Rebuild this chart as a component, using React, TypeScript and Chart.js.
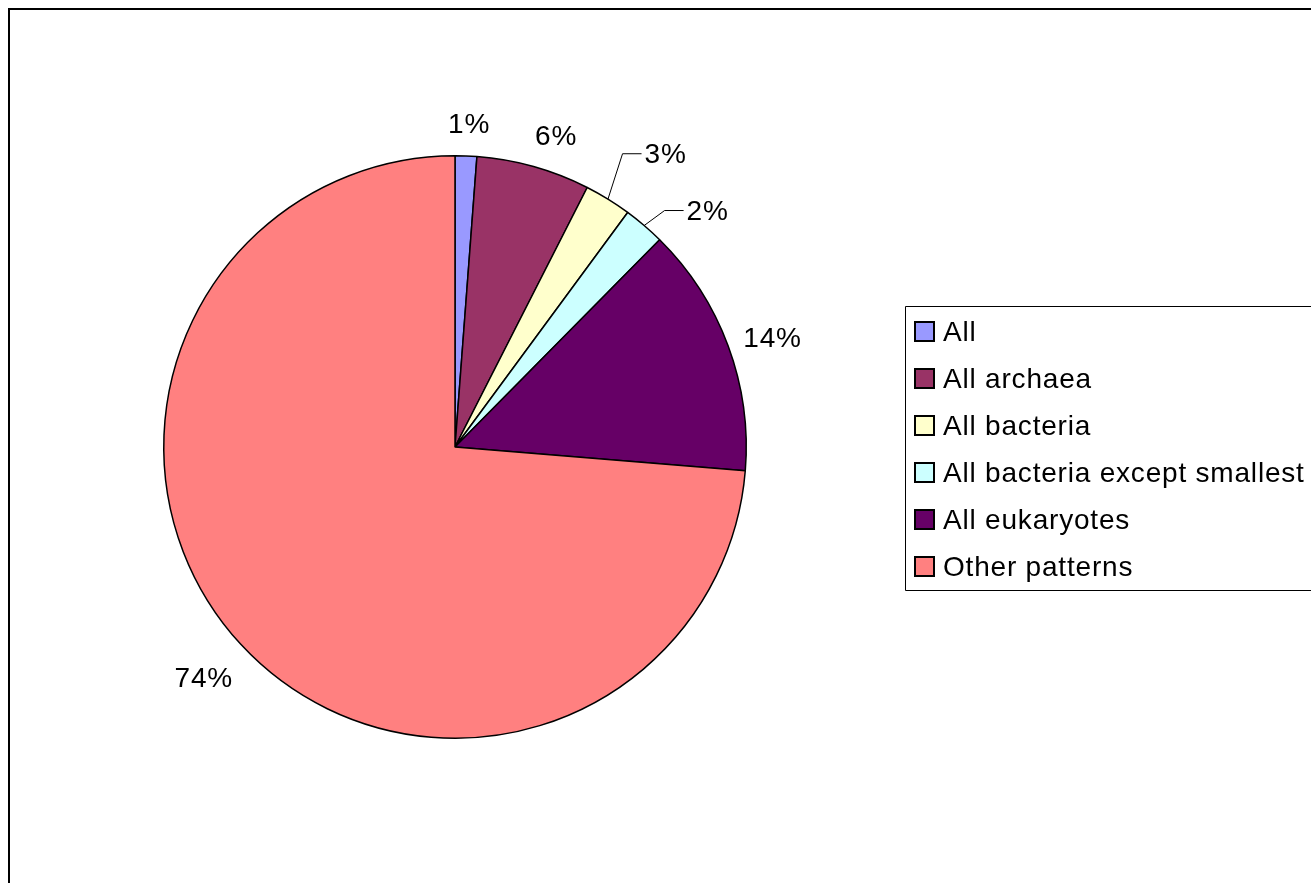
import React, { useEffect, useRef } from "react";
import { Chart, registerables } from "chart.js";

Chart.register(...registerables);

const categories = [
  "All",
  "All archaea",
  "All bacteria",
  "All bacteria except smallest",
  "All eukaryotes",
  "Other patterns",
];
const shares = [1.2, 6.3, 2.6, 2.3, 13.9, 73.7];
const sliceColors = ["#9999FF", "#993366", "#FFFFCC", "#CCFFFF", "#660066", "#FF8080"];

// label nudges (px) and which labels have leader lines
const labelNudgeX = [2, 13, 37, 37, -2, -2];
const labelNudgeY = [-1, 4, -11, 17, 10, 2];
const hasLeader = [false, false, true, true, false, false];

const FONT = "28px 'Liberation Sans', Arial, sans-serif";

const labelPlugin = {
  id: "pieLabels",
  afterDraw(chart: any) {
    const ctx = chart.ctx as CanvasRenderingContext2D;
    const meta = chart.getDatasetMeta(0);
    const data = chart.data.datasets[0].data as number[];
    const total = data.reduce((a, b) => a + b, 0);
    ctx.save();
    ctx.font = FONT;
    (ctx as any).letterSpacing = "0.8px";
    ctx.fillStyle = "#000";
    ctx.strokeStyle = "#000";
    ctx.lineWidth = 1;
    ctx.textBaseline = "middle";
    ctx.textAlign = "center";
    meta.data.forEach((arc: any, i: number) => {
      const p = arc.getProps(["x", "y", "startAngle", "endAngle", "outerRadius"], true);
      const mid = (p.startAngle + p.endAngle) / 2;
      const c = Math.cos(mid);
      const s = Math.sin(mid);
      const text = Math.round((data[i] / total) * 100) + "%";
      const w = ctx.measureText(text).width;
      const h = 24;
      const dist = p.outerRadius + 18 + Math.abs(c) * w / 2 + Math.abs(s) * h / 2;
      const cx = p.x + c * dist + labelNudgeX[i];
      const cy = p.y + s * dist + labelNudgeY[i];
      if (hasLeader[i]) {
        const left = cx - w / 2;
        ctx.beginPath();
        ctx.moveTo(p.x + c * p.outerRadius, p.y + s * p.outerRadius);
        ctx.lineTo(left - 22, cy - 1);
        ctx.lineTo(left - 3, cy - 1);
        ctx.stroke();
      }
      ctx.fillText(text, cx, cy + 1);
    });

    // legend
    const boxLeft = 895.5;
    const boxTop = 296.5;
    const boxBottom = 580.5;
    ctx.lineWidth = 1;
    ctx.strokeStyle = "#000";
    ctx.beginPath();
    ctx.moveTo(chart.width + 5, boxTop);
    ctx.lineTo(boxLeft, boxTop);
    ctx.lineTo(boxLeft, boxBottom);
    ctx.lineTo(chart.width + 5, boxBottom);
    ctx.stroke();
    ctx.textAlign = "left";
    categories.forEach((name, i) => {
      const cy = 322 + i * 47;
      ctx.fillStyle = sliceColors[i];
      ctx.fillRect(905, cy - 10, 19, 19);
      ctx.lineWidth = 2;
      ctx.strokeRect(905, cy - 10, 19, 19);
      ctx.fillStyle = "#000";
      ctx.fillText(name, 933, cy + 1);
    });
    ctx.restore();
  },
};

export default function App() {
  const ref = useRef<HTMLCanvasElement>(null);
  useEffect(() => {
    if (!ref.current) return;
    const chart = new Chart(ref.current, {
      type: "pie",
      data: {
        labels: categories,
        datasets: [
          {
            data: shares,
            backgroundColor: sliceColors,
            borderColor: "#000000",
            borderWidth: 1.5,
          },
        ],
      },
      options: {
        responsive: false,
        animation: false,
        layout: { padding: { left: 153, top: 145, right: 564, bottom: 144 } },
        plugins: {
          legend: { display: false },
          tooltip: { enabled: false },
        },
      },
      plugins: [labelPlugin],
    });
    return () => chart.destroy();
  }, []);
  return (
    <div
      style={{
        position: "fixed",
        left: 8,
        top: 8,
        right: 0,
        bottom: 0,
        borderTop: "2px solid #000",
        borderLeft: "2px solid #000",
        background: "#fff",
        overflow: "hidden",
      }}
    >
      <canvas ref={ref} width={1301} height={873} style={{ display: "block", width: 1301, height: 873 }} />
    </div>
  );
}
